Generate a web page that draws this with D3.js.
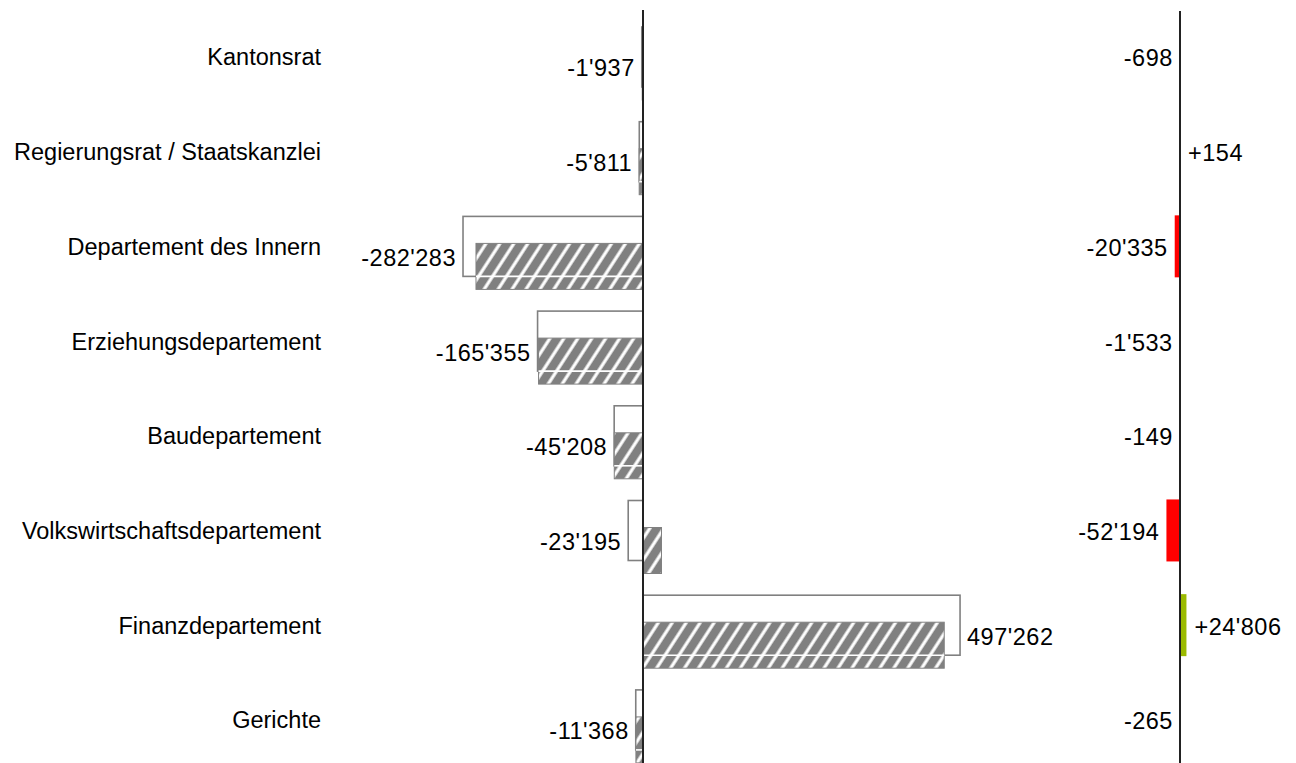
<!DOCTYPE html>
<html>
<head>
<meta charset="utf-8">
<script src="https://cdn.jsdelivr.net/npm/d3@7"></script>
<style>
  html, body { margin: 0; padding: 0; background: #fff; }
  svg { display: block; }
  text { font-family: "Liberation Sans", Arial, sans-serif; font-size: 23.5px; fill: #000; }
  text.val, text.devval { letter-spacing: 0.5px; }
</style>
</head>
<body>
<svg id="chart" width="1296" height="763"></svg>
<script>

    // departments, top to bottom
    var categories = ['Kantonsrat', 'Regierungsrat / Staatskanzlei', 'Departement des Innern',
        'Erziehungsdepartement', 'Baudepartement', 'Volkswirtschaftsdepartement',
        'Finanzdepartement', 'Gerichte'];

    // outlined bars (labelled values)
    var budget = [-1937, -5811, -282283, -165355, -45208, -23195, 497262, -11368];

    // hatched bars
    var actual = [-1240, -5970, -261950, -163820, -45060, 29000, 472460, -11100];

    // deviation shown in the right-hand column
    var deviation = [-698, 154, -20335, -1533, -149, -52194, 24806, -265];

    var svg = d3.select('#chart'),
        height = +svg.attr('height');

    var locale = d3.formatLocale({
        decimal: '.',
        thousands: "'",
        grouping: [3],
        currency: ['', ''],
        minus: '-'
    });
    var fmt = locale.format(','),
        fmtSigned = locale.format('+,');

    var y = d3.scaleBand()
        .domain(categories)
        .range([9.6, 767.2]);
    var bw = y.bandwidth();

    var xLeft = d3.scaleLinear()
        .domain([0, 500000])
        .range([643, 961.8]);

    var xRight = d3.scaleLinear()
        .domain([0, 50000])
        .range([1180, 1193]);

    var grey = '#808080';

    // hatch pattern
    var pattern = svg.append('defs').append('pattern')
        .attr('id', 'hatch')
        .attr('patternUnits', 'userSpaceOnUse')
        .attr('width', 11.7)
        .attr('height', 11.7)
        .attr('patternTransform', 'rotate(33)');
    pattern.append('rect')
        .attr('width', 11.7)
        .attr('height', 11.7)
        .attr('fill', grey);
    pattern.append('line')
        .attr('x1', 2).attr('y1', 0)
        .attr('x2', 2).attr('y2', 11.7)
        .attr('stroke', '#fff')
        .attr('stroke-width', 3.2);

    var data = categories.map(function (c, i) {
        return { name: c, budget: budget[i], actual: actual[i], deviation: deviation[i] };
    });

    // category labels
    svg.append('g').selectAll('text')
        .data(data)
        .enter().append('text')
        .attr('x', 321)
        .attr('y', function (d) { return y(d.name) + bw / 2; })
        .attr('dy', '0.36em')
        .attr('text-anchor', 'end')
        .text(function (d) { return d.name; });

    var left = svg.append('g');

    // outlined bars
    left.selectAll('.budget')
        .data(data)
        .enter().append('rect')
        .attr('class', 'budget')
        .attr('x', function (d) { return Math.min(xLeft(0), xLeft(d.budget)); })
        .attr('width', function (d) { return Math.abs(xLeft(d.budget) - xLeft(0)); })
        .attr('y', function (d) { return y(d.name) + 17.4; })
        .attr('height', 60)
        .attr('fill', '#fff')
        .attr('stroke', grey)
        .attr('stroke-width', 1.6);

    // hatched bars
    left.selectAll('.actual')
        .data(data)
        .enter().append('rect')
        .attr('class', 'actual')
        .attr('x', function (d) { return Math.min(xLeft(0), xLeft(d.actual)); })
        .attr('width', function (d) { return Math.abs(xLeft(d.actual) - xLeft(0)); })
        .attr('y', function (d) { return y(d.name) + 44.4; })
        .attr('height', 46)
        .attr('fill', 'url(#hatch)')
        .attr('stroke', grey)
        .attr('stroke-width', 1);

    // outline bottom edge crossing the hatched bar
    left.selectAll('.cut')
        .data(data.filter(function (d) { return d.budget * d.actual > 0; }))
        .enter().append('line')
        .attr('class', 'cut')
        .attr('x1', xLeft(0))
        .attr('x2', function (d) {
            var v = Math.abs(d.actual) < Math.abs(d.budget) ? d.actual : d.budget;
            return xLeft(v);
        })
        .attr('y1', function (d) { return y(d.name) + 77.4; })
        .attr('y2', function (d) { return y(d.name) + 77.4; })
        .attr('stroke', '#fff')
        .attr('stroke-width', 1.6);

    // value labels for the outlined bars
    left.selectAll('.val')
        .data(data)
        .enter().append('text')
        .attr('class', 'val')
        .attr('x', function (d) {
            return d.budget < 0
                ? xLeft(Math.min(d.budget, d.actual, 0)) - 7
                : xLeft(Math.max(d.budget, d.actual)) + 7;
        })
        .attr('y', function (d) { return y(d.name) + bw / 2 + 11; })
        .attr('dy', '0.36em')
        .attr('text-anchor', function (d) { return d.budget < 0 ? 'end' : 'start'; })
        .text(function (d) { return fmt(d.budget); });

    left.append('line')
        .attr('x1', xLeft(0)).attr('x2', xLeft(0))
        .attr('y1', 10).attr('y2', height)
        .attr('stroke', '#222')
        .attr('stroke-width', 2);

    var right = svg.append('g');

    right.selectAll('.dev')
        .data(data)
        .enter().append('rect')
        .attr('class', 'dev')
        .attr('x', function (d) { return Math.min(xRight(0), xRight(d.deviation)); })
        .attr('width', function (d) { return Math.abs(xRight(d.deviation) - xRight(0)); })
        .attr('y', function (d) { return y(d.name) + bw / 2 - 31; })
        .attr('height', 62)
        .attr('fill', function (d) { return d.deviation < 0 ? '#ff0000' : '#9bba00'; });

    right.selectAll('.devval')
        .data(data)
        .enter().append('text')
        .attr('class', 'devval')
        .attr('x', function (d) {
            return d.deviation < 0 ? xRight(d.deviation) - 7 : xRight(d.deviation) + 8;
        })
        .attr('y', function (d) { return y(d.name) + bw / 2 + 1; })
        .attr('dy', '0.36em')
        .attr('text-anchor', function (d) { return d.deviation < 0 ? 'end' : 'start'; })
        .text(function (d) { return d.deviation < 0 ? fmt(d.deviation) : fmtSigned(d.deviation); });

    right.append('line')
        .attr('x1', xRight(0)).attr('x2', xRight(0))
        .attr('y1', 11).attr('y2', height)
        .attr('stroke', '#222')
        .attr('stroke-width', 2);

</script>
</body>
</html>
